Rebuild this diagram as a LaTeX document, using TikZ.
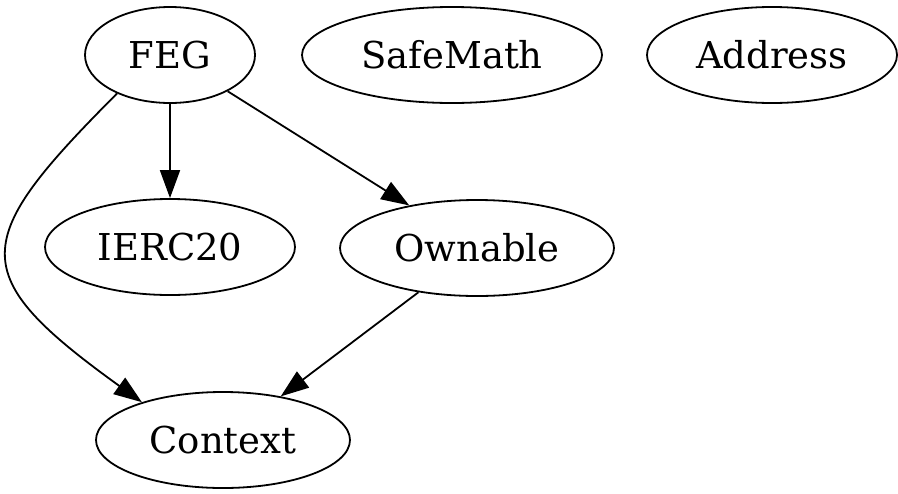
\documentclass[tikz,border=0pt]{standalone}
\usepackage{fontspec}
\setmainfont{DejaVu Serif}
\usepackage{tikz}
\usetikzlibrary{shapes.geometric,arrows.meta}

\begin{document}
\begin{tikzpicture}[x=0.5pt,y=-0.5pt,
	contract/.style={shape=ellipse,draw=black,line width=0.9pt,inner sep=0pt,minimum height=48pt,font=\fontsize{18.5}{22}\selectfont},
	dep/.style={line width=0.9pt,-{Triangle[length=14pt,width=10pt]}}]
	
	\useasboundingbox (0,0) rectangle (898,493);
	
	\node[contract,minimum width=85pt]  (FEG)      at (170, 55)  {FEG};
	\node[contract,minimum width=150pt] (SafeMath) at (452, 55)  {SafeMath};
	\node[contract,minimum width=125pt] (Address)  at (772, 55)  {Address};
	\node[contract,minimum width=125pt] (IERC20)   at (170, 247) {IERC20};
	\node[contract,minimum width=137pt] (Ownable)  at (477, 248) {Ownable};
	\node[contract,minimum width=127pt] (Context)  at (223, 440) {Context};
	\path[dep] (FEG) edge (IERC20);
	\path[dep] (FEG) edge (Ownable);
	\path[dep] (Ownable) edge (Context);
	\draw[dep] (FEG.216) .. controls (-30, 241) and (-36, 274) .. (Context.155);
	
\end{tikzpicture}
\end{document}
